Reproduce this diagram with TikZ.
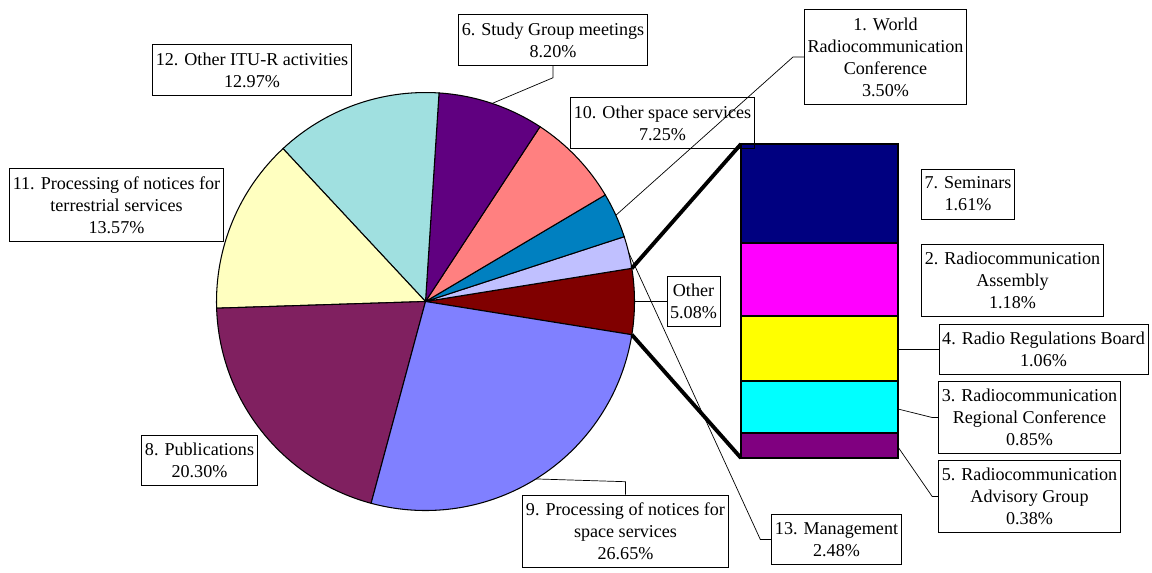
\documentclass[tikz,border=0pt]{standalone}
\usepackage{fontspec}
\setmainfont{Liberation Serif}
\definecolor{cOther}{HTML}{800000}
\definecolor{cMgmt}{HTML}{C0C0FF}
\definecolor{cWRC}{HTML}{0080C0}
\definecolor{cOspace}{HTML}{FF8080}
\definecolor{cStudy}{HTML}{600080}
\definecolor{cITU}{HTML}{A0E0E0}
\definecolor{cTerr}{HTML}{FFFFC0}
\definecolor{cPubl}{HTML}{802060}
\definecolor{cSpace}{HTML}{8080FF}
\definecolor{cSem}{HTML}{000080}
\definecolor{cRA}{HTML}{FF00FF}
\definecolor{cRRB}{HTML}{FFFF00}
\definecolor{cRRC}{HTML}{00FFFF}
\definecolor{cRAG}{HTML}{800080}
\tikzset{
	lbl/.style={draw, line width=0.5pt, align=center, inner xsep=1.8pt, inner ysep=4.5pt,
		font=\fontsize{10.3}{12.5}\selectfont},
	leader/.style={line width=0.4pt},
	link/.style={line width=2.2pt},
	piece/.style={line width=0.6pt},
}
\begin{document}
\begin{tikzpicture}[x=0.02cm, y=-0.02cm]
			\useasboundingbox (0,0) rectangle (1152,572);
			\coordinate (c) at (425.5,301.5);
			\foreach \a\b\col in {350.856/369.144/cOther, 9.144/18.072/cMgmt, 18.072/30.672/cWRC,
				30.672/56.772/cOspace, 56.772/86.292/cStudy, 86.292/132.984/cITU,
				132.984/181.836/cTerr, 181.836/254.916/cPubl, 254.916/350.856/cSpace}{
				\filldraw[piece, fill=\col] (c) -- +(-\a:209) arc[start angle=-\a, end angle=-\b, radius=209] -- cycle;
			}
			\path (c) +(-9.144:209) coordinate (otop) +(9.144:209) coordinate (obot)
				+(-71.4:209) coordinate (pStudy) +(-24.372:209) coordinate (pWRC)
				+(-13.608:209) coordinate (pMgmt) +(0:209) coordinate (pOther)
				+(58.1:209) coordinate (pSpace);
			\coordinate (bartop) at (741,144);
			\coordinate (barbot) at (741,458);
			\draw[link] (otop) -- (bartop);
			\draw[link] (obot) -- (barbot);
			\foreach \t\b\col in {144/243/cSem, 243/316/cRA, 316/381/cRRB, 381/433/cRRC, 433/458/cRAG}{
				\filldraw[piece, fill=\col] (741,\t) rectangle (898,\b);
			}
			\coordinate (r4) at (898,349.5);
			\coordinate (r3) at (898,409);
			\coordinate (r5) at (898,447);
			\node[lbl] (l1) at (885.5,57) {1. World\\Radiocommunication\\Conference\\3.50\%};
			\node[lbl] (l10) at (662.5,123) {10. Other space services\\7.25\%};
			\node[lbl] (l6) at (553,40) {6. Study Group meetings\\8.20\%};
			\node[lbl] (l12) at (252,70) {12. Other ITU-R activities\\12.97\%};
			\node[lbl] (l11) at (116.5,205) {11. Processing of notices for\\terrestrial services\\13.57\%};
			\node[lbl] (l8) at (199.5,460.5) {8. Publications\\20.30\%};
			\node[lbl] (l9) at (625.5,531.5) {9. Processing of notices for\\space services\\26.65\%};
			\node[lbl] (l13) at (836.5,539.5) {13. Management\\2.48\%};
			\node[lbl] (lo) at (693.5,301.5) {Other\\5.08\%};
			\node[lbl] (l7) at (968,194) {7. Seminars\\1.61\%};
			\node[lbl] (l2) at (1012.5,280.5) {2. Radiocommunication\\Assembly\\1.18\%};
			\node[lbl] (l4) at (1043.5,349.5) {4. Radio Regulations Board\\1.06\%};
			\node[lbl] (l3) at (1029.5,417.5) {3. Radiocommunication\\Regional Conference\\0.85\%};
			\node[lbl] (l5) at (1029.5,496.5) {5. Radiocommunication\\Advisory Group\\0.38\%};
			\draw[leader] (l6.south) -- ++(0,12) -- (pStudy);
			\draw[leader] (l1.west) -- ++(-11,0) -- (pWRC);
			\draw[leader] (l13.west) -- ++(-11,0) -- (pMgmt);
			\draw[leader] (lo.west) -- (pOther);
			\draw[leader] (l9.north) -- ++(0,-13) -- (pSpace);
			\draw[leader] (l4.west) -- (r4);
			\draw[leader] (l3.west) -- ++(-6,0) -- (r3);
			\draw[leader] (l5.west) -- ++(-6,0) -- (r5);
		\end{tikzpicture}
\end{document}
